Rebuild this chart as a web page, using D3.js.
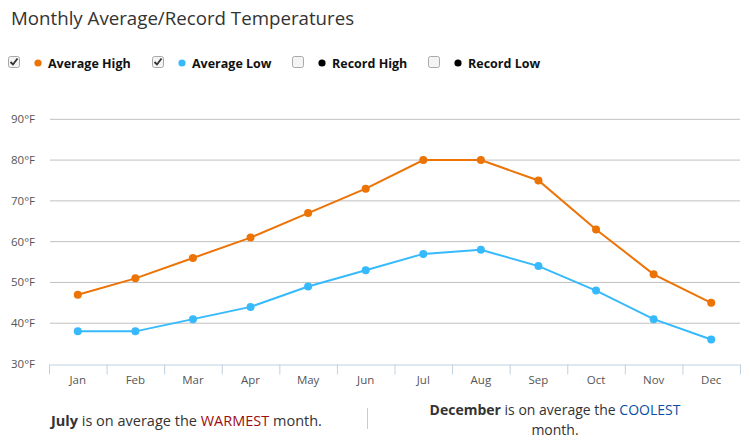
<!DOCTYPE html>
<html><head><meta charset="utf-8">
<script src="https://cdn.jsdelivr.net/npm/d3@7"></script>
<style>
body{margin:0;background:#fff;font-family:"Open Sans",sans-serif;}
svg{display:block;}
</style></head>
<body>
<svg id="chart" width="750" height="442"></svg>
<script>
const months = ["Jan","Feb","Mar","Apr","May","Jun","Jul","Aug","Sep","Oct","Nov","Dec"];
const avgHigh = [47,51,56,61,67,73,80,80,75,63,52,45];
const avgLow  = [38,38,41,44,49,53,57,58,54,48,41,36];
const yTicks = [30,40,50,60,70,80,90];
const legendItems = [
  {label:"Average High", color:"#ec7306", checked:true},
  {label:"Average Low", color:"#36bafd", checked:true},
  {label:"Record High", color:"#000", checked:false},
  {label:"Record Low", color:"#000", checked:false}
];

const svg = d3.select("#chart");
svg.append("text").attr("x",11).attr("y",25).attr("font-size",18.7).attr("fill","#333")
  .attr("font-family","'Open Sans',sans-serif").text("Monthly Average/Record Temperatures");

// legend
const legX = [8,152,292,428];
legendItems.forEach((d,i)=>{
  const g = svg.append("g").attr("transform",`translate(${legX[i]},56)`);
  g.append("rect").attr("x",0.5).attr("y",0.5).attr("width",11).attr("height",11).attr("rx",2)
    .attr("fill", "#f4f4f4").attr("stroke","#a8a8a8");
  if(d.checked){
    g.append("path").attr("d","M2.5,6 L5,8.5 L9.5,2.5").attr("fill","none").attr("stroke","#333").attr("stroke-width",1.8);
  }
  g.append("circle").attr("cx",30).attr("cy",7).attr("r",3.6).attr("fill",d.color);
  g.append("text").attr("x",40).attr("y",11.5).attr("font-size",12.5).attr("font-weight","bold")
    .attr("fill","#111").text(d.label);
});

const x = d3.scaleBand().domain(months).range([49,740]);
const y = d3.scaleLinear().domain([30,90]).range([364,119.3]);

// grid
svg.append("g").selectAll("line").data(yTicks.filter(t=>t>30)).join("line")
  .attr("x1",50).attr("x2",740).attr("y1",d=>y(d)).attr("y2",d=>y(d))
  .attr("stroke","#c0c0c0").attr("stroke-width",1);

// y labels
svg.append("g").selectAll("text").data(yTicks).join("text")
  .attr("x",35).attr("y",d=>y(d)+4).attr("text-anchor","end").attr("font-size",11.5)
  .attr("fill","#555").text(d=>d+"°F");

// x axis
const xAxis = d3.axisBottom(x).tickSize(0).tickPadding(11);
const xg = svg.append("g").attr("transform","translate(0,364.5)").call(xAxis);
xg.select(".domain").attr("stroke","#c0d0e0");
xg.selectAll("text").attr("font-size",11.5).attr("fill","#555").attr("font-family","'Open Sans',sans-serif");
const bounds = months.map(m=>x(m)).concat([x.range()[1]]);
xg.selectAll("line.sep").data(bounds).join("line").attr("class","sep")
  .attr("x1",d=>d+0.5).attr("x2",d=>d+0.5).attr("y1",0).attr("y2",10).attr("stroke","#c0d0e0");

const cx = m => x(m)+x.bandwidth()/2;
const line = d3.line().x((d,i)=>cx(months[i])).y(d=>y(d));
[[avgHigh,"#ec7306"],[avgLow,"#36bafd"]].forEach(([data,color])=>{
  svg.append("path").datum(data).attr("d",line).attr("fill","none").attr("stroke",color).attr("stroke-width",2);
  svg.append("g").selectAll("circle").data(data).join("circle")
    .attr("cx",(d,i)=>cx(months[i])).attr("cy",d=>y(d)).attr("r",4).attr("fill",color);
});

// bottom text
const t1 = svg.append("text").attr("x",51).attr("y",426).attr("font-size",14.5).attr("fill","#333");
t1.append("tspan").attr("font-weight","bold").text("July");
t1.append("tspan").text(" is on average the ");
t1.append("tspan").attr("fill","#a00c0c").text("WARMEST");
t1.append("tspan").text(" month.");

svg.append("line").attr("x1",367.5).attr("x2",367.5).attr("y1",408).attr("y2",429).attr("stroke","#ccc");

const t2 = svg.append("text").attr("x",555).attr("y",415).attr("text-anchor","middle").attr("font-size",14).attr("fill","#333");
t2.append("tspan").attr("font-weight","bold").text("December");
t2.append("tspan").text(" is on average the ");
t2.append("tspan").attr("fill","#0b4ea2").text("COOLEST");
svg.append("text").attr("x",555).attr("y",435).attr("text-anchor","middle").attr("font-size",14).attr("fill","#333").text("month.");
</script>
</body></html>
